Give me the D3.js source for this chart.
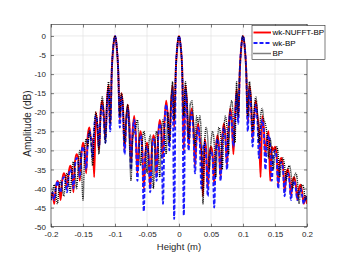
<!DOCTYPE html>
<html><head><meta charset="utf-8">
<script src="https://cdn.jsdelivr.net/npm/d3@7"></script>
<style>body{margin:0;background:#fff}svg{display:block}</style>
</head><body><svg id="c" width="346" height="259"></svg>
<script>
// ---- data ----
const heightStart = -0.2, heightStep = 0.0025;
const xTicks = [-0.2, -0.15, -0.1, -0.05, 0, 0.05, 0.1, 0.15, 0.2];
const yTicks = [0, -5, -10, -15, -20, -25, -30, -35, -40, -45, -50];
const seriesNames = ["wk-NUFFT-BP", "wk-BP", "BP"];

const nufftBP = [
-42,-41,-44,-40,-38,-39,-43,-38,-36,-37,
-40,-36,-34,-35,-41,-33,-31,-32,-38,-31,
-28,-30,-36,-26,-24,-27,-27,-37,-20,-24,
-30,-20,-17,-21,-27,-17,-13,-24,-9,-2.5,
0,-2.5,-9,-22,-15,-19,-30,-22,-18,-23,
-33,-25,-21,-26,-36,-28,-25,-29,-40,-31,
-28,-31,-40,-30,-26,-28,-37,-26,-22,-25,
-32,-22,-17,-21,-28,-18,-13,-24,-9,-2.5,
0,-2.5,-9,-30,-13,-18,-29,-22,-19,-24,
-34,-26,-23,-27,-31,-42,-27,-30,-40,-31,
-29,-31,-39,-30,-26,-29,-37,-27,-23,-26,
-34,-24,-19,-22,-31,-21,-14,-22,-9,-2.5,
0,-2.5,-9,-23,-13,-17,-27,-21,-17,-21,
-25,-37,-21,-24,-31,-27,-25,-38,-29,-30,
-29,-31,-39,-33,-32,-34,-41,-36,-35,-37,
-42,-38,-37,-39,-43,-40,-39,-41,-44,-42,
-44];

const wkBP = [
-43,-41,-43,-40,-38,-40,-41,-38,-37,-38,
-41,-37,-35,-36,-40,-34,-32,-33,-37,-31,
-29,-31,-35,-28,-25,-27,-32,-24,-21,-23,
-29,-21,-18,-22,-28,-18,-14,-25,-9,-2.5,
0,-2.5,-9,-24,-16,-20,-31,-23,-19,-24,
-35,-26,-22,-27,-38,-29,-26,-30,-46,-31,
-29,-32,-41,-31,-27,-29,-38,-27,-23,-26,
-44,-23,-18,-22,-30,-19,-14,-48,-9,-2.5,
0,-2.5,-9,-47,-14,-19,-30,-23,-20,-25,
-36,-27,-24,-28,-40,-30,-28,-32,-42,-33,
-30,-32,-45,-31,-27,-30,-38,-28,-24,-27,
-35,-25,-20,-23,-29,-22,-15,-23,-9,-2.5,
0,-2.5,-9,-25,-14,-18,-29,-22,-18,-22,
-32,-25,-22,-25,-35,-28,-26,-29,-38,-31,
-30,-32,-40,-34,-33,-35,-42,-37,-36,-38,
-43,-39,-38,-40,-43,-41,-40,-42,-44,-42,
-43];

const bp = [
-43,-41,-39,-41,-44,-40,-38,-40,-42,-38,
-36,-38,-41,-36,-33,-36,-40,-34,-30,-34,
-43,-31,-27,-29,-25,-28,-34,-25,-20,-23,
-31,-21,-16,-20,-28,-17,-12,-23,-9,-2.5,
0,-2.5,-9,-21,-15,-18,-28,-21,-18,-28,
-38,-27,-25,-24,-22,-27,-34,-28,-25,-28,
-36,-29,-26,-30,-40,-29,-25,-29,-37,-26,
-22,-25,-31,-20,-28,-17,-12,-22,-9,-2.5,
0,-2.5,-9,-21,-12,-17,-27,-18,-17,-22,
-29,-21,-23,-21,-27,-44,-28,-24,-27,-35,
-28,-25,-28,-37,-28,-24,-26,-35,-25,-21,
-24,-31,-19,-17,-22,-28,-12,-21,-9,-2.5,
0,-2.5,-9,-21,-12,-16,-25,-19,-16,-20,
-28,-21,-19,-22,-23,-26,-32,-27,-30,-35,
-30,-29,-31,-37,-33,-32,-34,-38,-35,-34,
-36,-40,-37,-36,-38,-44,-40,-39,-40,-43,
-42];

// ---- layout ----
const W = 346, H = 259;
const m = {l: 51, r: 39, t: 24.5, b: 32.3};
const pw = W - m.l - m.r, ph = H - m.t - m.b;
const font = "'Liberation Sans', Arial, Helvetica, sans-serif";
const axisCol = "#262626";

const svg = d3.select("#c");
const g = svg.append("g").attr("transform", `translate(${m.l},${m.t})`);

const x = d3.scaleLinear().domain([-0.2, 0.2]).range([0, pw]);
const y = d3.scaleLinear().domain([-50, 3]).range([ph, 0]);

const heights = nufftBP.map((_, i) => heightStart + i * heightStep);

// grid
g.append("g").selectAll("line").data(xTicks).join("line")
  .attr("x1", d => x(d)).attr("x2", d => x(d)).attr("y1", 0).attr("y2", ph)
  .attr("stroke", "#e3e3e3").attr("stroke-width", 0.7);
g.append("g").selectAll("line").data(yTicks).join("line")
  .attr("y1", d => y(d)).attr("y2", d => y(d)).attr("x1", 0).attr("x2", pw)
  .attr("stroke", "#e3e3e3").attr("stroke-width", 0.7);

// clip
svg.append("defs").append("clipPath").attr("id", "clip")
  .append("rect").attr("width", pw).attr("height", ph);

const series = [
  {name: seriesNames[0], vals: nufftBP, color: "#ff0000", width: 1.9, dash: null},
  {name: seriesNames[1], vals: wkBP, color: "#1a1aff", width: 1.9, dash: "4,2"},
  {name: seriesNames[2], vals: bp, color: "#000000", width: 1.4, dash: "1,1"}
];

const line = d3.line().x((d, i) => x(heights[i])).y(d => y(d)).curve(d3.curveMonotoneX);
const lg = g.append("g").attr("clip-path", "url(#clip)");
series.forEach(s => {
  lg.append("path").datum(s.vals).attr("d", line)
    .attr("fill", "none").attr("stroke", s.color).attr("stroke-width", s.width)
    .attr("stroke-dasharray", s.dash).attr("stroke-linejoin", "round");
});

// axes
const fmt = d => String(d);
const styleAxis = sel => {
  sel.select(".domain").remove();
  sel.selectAll(".tick line").attr("stroke", axisCol).attr("stroke-width", 0.6);
  sel.selectAll("text").attr("fill", axisCol).style("font-family", font).style("font-size", "8px");
};
g.append("g").attr("transform", `translate(0,${ph})`)
  .call(d3.axisBottom(x).tickValues(xTicks).tickFormat(fmt).tickSize(-3).tickPadding(5)).call(styleAxis);
g.append("g")
  .call(d3.axisLeft(y).tickValues(yTicks).tickFormat(fmt).tickSize(-3).tickPadding(5)).call(styleAxis);
g.append("g")
  .call(d3.axisTop(x).tickValues(xTicks).tickFormat("").tickSize(-3)).call(styleAxis);
g.append("g").attr("transform", `translate(${pw},0)`)
  .call(d3.axisRight(y).tickValues(yTicks).tickFormat("").tickSize(-3)).call(styleAxis);

g.append("rect").attr("width", pw).attr("height", ph)
  .attr("fill", "none").attr("stroke", axisCol).attr("stroke-width", 0.6);

// labels
svg.append("text").attr("x", m.l + pw / 2).attr("y", 249.5).attr("text-anchor", "middle")
  .style("font-family", font).style("font-size", "9.5px").attr("fill", axisCol).text("Height (m)");
svg.append("text").attr("transform", `translate(31,${m.t + ph / 2 - 2}) rotate(-90)`)
  .attr("text-anchor", "middle")
  .style("font-family", font).style("font-size", "10px").attr("fill", axisCol).text("Amplitude (dB)");

// legend
const lgX = 252, lgY = 25.5, lgW = 73, lgH = 34;
const leg = svg.append("g");
leg.append("rect").attr("x", lgX).attr("y", lgY).attr("width", lgW).attr("height", lgH)
  .attr("fill", "#fff").attr("stroke", axisCol).attr("stroke-width", 0.6);
const rowsY = [32.5, 43, 53.5];
series.forEach((s, i) => {
  leg.append("line").attr("x1", lgX + 1.5).attr("x2", lgX + 19).attr("y1", rowsY[i]).attr("y2", rowsY[i])
    .attr("stroke", s.color).attr("stroke-width", s.width).attr("stroke-dasharray", s.dash);
  leg.append("text").attr("x", lgX + 20.5).attr("y", rowsY[i]).attr("dy", "0.35em")
    .style("font-family", font).style("font-size", "8px").attr("fill", "#000").text(s.name);
});
</script></body></html>
